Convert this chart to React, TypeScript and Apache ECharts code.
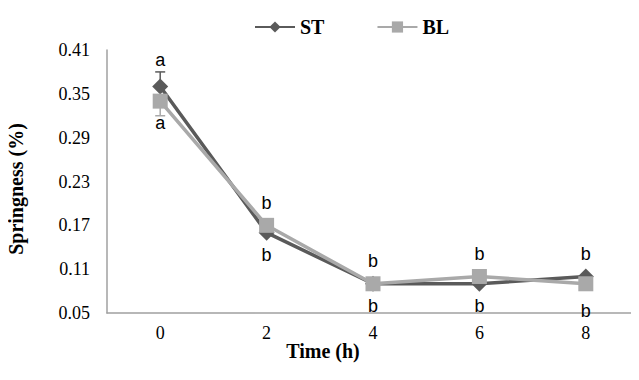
import React, { useEffect, useRef } from "react";
import * as echarts from "echarts";

const categories = ["0", "2", "4", "6", "8"];
const stValues = [0.36, 0.16, 0.09, 0.09, 0.1];
const blValues = [0.34, 0.17, 0.09, 0.1, 0.09];
const stErr = [0.02, 0.0, 0.0, 0.0, 0.0];
const blErr = [0.02, 0.0, 0.0, 0.0, 0.0];
const stLetters = ["a", "b", "b", "b", "b"];
const blLetters = ["a", "b", "b", "b", "b"];
const stLabelPos = ["top", "bottom", "bottom", "bottom", "top"];
const blLabelPos = ["bottom", "top", "top", "top", "bottom"];
const stLabelDist = [10, 5, 5, 5, 5];
const blLabelDist = [5, 6, 6, 6, 11];
const xTitle = "Time (h)";
const yTitle = "Springness (%)";

const ST_COLOR = "#5a5a5a";
const BL_COLOR = "#a9a9a9";

export default function App() {
  const ref = useRef<HTMLDivElement>(null);
  useEffect(() => {
    if (!ref.current) return;
    const chart = echarts.init(ref.current, undefined, { renderer: "svg" });
    const labelStyle = {
      fontFamily: "Liberation Sans",
      fontSize: 18,
      color: "#000",
    };
    const titleFont = { fontFamily: "Liberation Serif", fontWeight: "bold", fontSize: 20 };
    const errSeries = (vals: number[], errs: number[], color: string, up: boolean) => ({
      type: "custom",
      silent: true,
      z: 1,
      data: vals.map((v, i) => [i, v, errs[i]]),
      renderItem: (params: any, api: any) => {
        const i = api.value(0);
        const v = api.value(1);
        const e = api.value(2);
        if (!e) return null;
        const p0 = api.coord([i, v]);
        const p1 = api.coord([i, up ? v + e : v - e]);
        return {
          type: "group",
          children: [
            { type: "line", shape: { x1: p0[0], y1: p0[1], x2: p1[0], y2: p1[1] }, style: { stroke: color, lineWidth: 1.5 } },
            { type: "line", shape: { x1: p1[0] - 5, y1: p1[1], x2: p1[0] + 5, y2: p1[1] }, style: { stroke: color, lineWidth: 1.5 } },
          ],
        };
      },
    });
    chart.setOption({
      animation: false,
      backgroundColor: "#fff",
      legend: {
        top: 12,
        left: 249,
        itemGap: 52,
        itemWidth: 40,
        itemHeight: 14,
        textStyle: { ...titleFont, color: "#000" },
        data: ["ST", "BL"],
      },
      graphic: [
        {
          type: "text",
          x: 323,
          y: 351,
          style: { text: xTitle, ...titleFont, fill: "#000", align: "center", verticalAlign: "middle" },
        },
        {
          type: "text",
          x: 16,
          y: 189,
          rotation: Math.PI / 2,
          style: { text: yTitle, ...titleFont, fill: "#000", align: "center", verticalAlign: "middle" },
        },
      ],
      grid: { left: 107, top: 50, width: 540, height: 263 },
      xAxis: {
        type: "category",
        data: categories,
        axisLine: { lineStyle: { color: "#a0a0a0", width: 1.5 } },
        axisTick: { show: false },
        axisLabel: { fontFamily: "Liberation Serif", fontSize: 18, color: "#000", margin: 11 },
      },
      yAxis: {
        type: "value",
        min: 0.05,
        max: 0.41,
        interval: 0.06,
        axisLine: { show: true, lineStyle: { color: "#a0a0a0", width: 1.5 } },
        axisTick: { show: false },
        splitLine: { show: false },
        axisLabel: {
          fontFamily: "Liberation Serif",
          fontSize: 18,
          color: "#000",
          margin: 17,
          formatter: (v: number) => v.toFixed(2),
        },
      },
      series: [
        errSeries(stValues, stErr, ST_COLOR, true),
        errSeries(blValues, blErr, BL_COLOR, false),
        {
          name: "ST",
          type: "line",
          z: 3,
          symbol: "diamond",
          symbolSize: 16,
          color: ST_COLOR,
          lineStyle: { width: 3.5, color: ST_COLOR },
          itemStyle: { color: ST_COLOR },
          data: stValues.map((v, i) => ({
            value: v,
            label: { show: true, position: stLabelPos[i], distance: stLabelDist[i], formatter: stLetters[i], ...labelStyle },
          })),
        },
        {
          name: "BL",
          type: "line",
          z: 4,
          symbol: "rect",
          symbolSize: 15,
          color: BL_COLOR,
          lineStyle: { width: 3.5, color: BL_COLOR },
          itemStyle: { color: BL_COLOR },
          data: blValues.map((v, i) => ({
            value: v,
            label: { show: true, position: blLabelPos[i], distance: blLabelDist[i], formatter: blLetters[i], ...labelStyle },
          })),
        },
      ],
    });
    return () => chart.dispose();
  }, []);
  return <div ref={ref} style={{ width: 639, height: 380, margin: -8 }} />;
}
